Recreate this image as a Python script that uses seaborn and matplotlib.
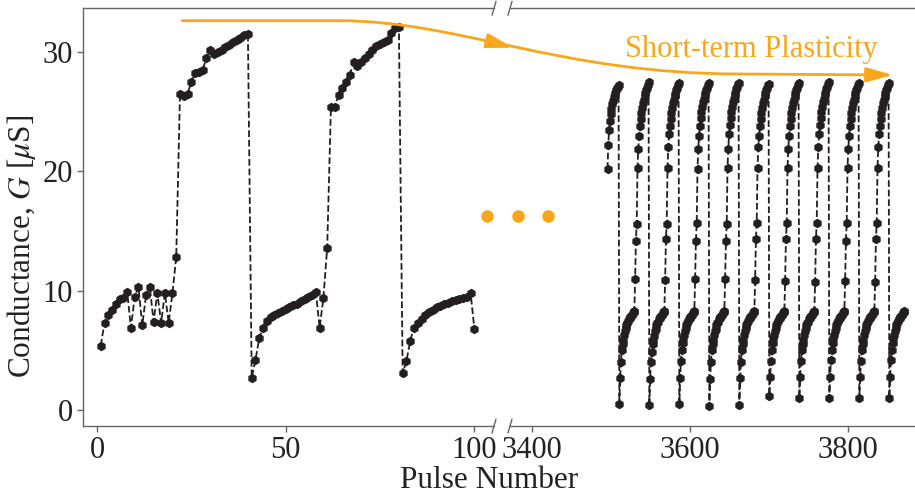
import numpy as np
import pandas as pd
import seaborn as sns
import matplotlib.pyplot as plt
from matplotlib.path import Path
from matplotlib.patches import FancyArrowPatch
from matplotlib.lines import Line2D

# Conductance readings, pulses 1-100 (start of the measurement)
g_left = [5.4, 7.3, 8.0, 8.4, 8.9, 9.3, 9.4, 9.9, 6.9, 9.5,
          10.3, 7.1, 9.6, 10.3, 7.4, 9.8, 7.3, 9.8, 7.3, 9.8,
          12.8, 26.5, 26.3, 26.5, 27.5, 28.2, 28.3, 28.5, 29.5, 30.2,
          29.8, 30.0, 30.2, 30.4, 30.6, 30.8, 31.0, 31.2, 31.4, 31.5,
          2.7, 4.2, 6.0, 6.9, 7.5, 7.8, 8.0, 8.1, 8.3, 8.5,
          8.6, 8.8, 8.9, 9.1, 9.3, 9.5, 9.6, 9.9, 6.9, 9.4,
          13.6, 25.4, 25.4, 26.4, 27.0, 27.5, 28.1, 29.2, 28.8, 29.2,
          29.5, 29.8, 30.2, 30.5, 30.7, 30.8, 31.0, 31.6, 32.0, 32.1,
          3.1, 4.1, 5.8, 6.9, 7.3, 7.6, 8.0, 8.2, 8.4, 8.6,
          8.7, 8.9, 9.0, 9.1, 9.2, 9.3, 9.4, 9.5, 9.8, 6.8]
pulse_left = list(range(1, len(g_left) + 1))

# Conductance readings after pulse 3496 (short-term plasticity cycles)
g_right = [
    20.2, 22.2, 23.5, 24.2, 24.8, 25.2, 25.6, 25.9, 26.2, 26.4, 26.6, 26.8, 27.0, 27.1, 27.2,
    0.5, 2.7, 4.0, 5.0, 5.5, 5.9, 6.3, 6.6, 6.9, 7.1, 7.3, 7.5, 7.6, 7.7, 7.8, 7.9, 8.0, 8.1, 8.2, 8.3,
    11.0, 14.2, 15.6,
    20.3, 21.9, 23.0, 23.8, 24.4, 24.9, 25.3, 25.7, 26.0, 26.3, 26.6, 26.8, 27.0, 27.2, 27.5,
    0.4, 2.6, 4.0, 4.9, 5.5, 5.9, 6.2, 6.6, 6.8, 7.1, 7.3, 7.4, 7.6, 7.7, 7.8, 7.9, 8.0, 8.1, 8.2, 8.3,
    10.9, 14.3, 15.6,
    20.3, 22.0, 23.1, 23.8, 24.4, 24.9, 25.3, 25.7, 26.0, 26.3, 26.5, 26.8, 27.0, 27.2, 27.4,
    0.5, 2.7, 4.1, 5.0, 5.6, 6.0, 6.3, 6.6, 6.9, 7.1, 7.3, 7.5, 7.6, 7.7, 7.8, 7.9, 8.0, 8.1, 8.2, 8.3,
    11.0, 14.2, 15.7,
    20.2, 21.9, 23.0, 23.8, 24.5, 25.0, 25.4, 25.8, 26.1, 26.4, 26.6, 26.8, 27.0, 27.2, 27.4,
    0.3, 2.6, 4.0, 5.0, 5.5, 5.9, 6.3, 6.6, 6.8, 7.1, 7.3, 7.4, 7.6, 7.7, 7.8, 7.9, 8.0, 8.1, 8.2, 8.3,
    11.0, 14.2, 15.6,
    20.3, 21.9, 23.1, 23.9, 24.5, 25.0, 25.4, 25.8, 26.1, 26.4, 26.6, 26.9, 27.1, 27.3, 27.4,
    0.4, 2.7, 4.0, 5.0, 5.5, 5.9, 6.3, 6.6, 6.9, 7.1, 7.3, 7.5, 7.6, 7.7, 7.8, 7.9, 8.0, 8.1, 8.2, 8.3,
    10.9, 14.3, 15.7,
    20.3, 22.0, 23.0, 23.8, 24.4, 24.9, 25.3, 25.7, 26.0, 26.3, 26.6, 26.8, 27.0, 27.2, 27.3,
    1.2, 2.8, 4.1, 5.0, 5.6, 6.0, 6.3, 6.6, 6.9, 7.1, 7.3, 7.5, 7.6, 7.7, 7.8, 7.9, 8.0, 8.1, 8.2, 8.3,
    10.8, 14.3, 15.7,
    20.3, 21.9, 23.0, 23.8, 24.4, 24.9, 25.3, 25.7, 26.0, 26.3, 26.6, 26.8, 27.0, 27.2, 27.4,
    1.0, 2.8, 4.1, 5.0, 5.5, 5.9, 6.3, 6.6, 6.9, 7.1, 7.3, 7.4, 7.6, 7.7, 7.8, 7.9, 8.0, 8.1, 8.2, 8.3,
    10.7, 14.3, 15.7,
    20.3, 22.0, 23.1, 23.9, 24.5, 25.0, 25.4, 25.8, 26.1, 26.4, 26.6, 26.9, 27.1, 27.3, 27.5,
    1.0, 2.8, 4.2, 5.0, 5.6, 6.0, 6.3, 6.6, 6.9, 7.1, 7.3, 7.5, 7.6, 7.7, 7.8, 7.9, 8.0, 8.1, 8.2, 8.3,
    10.8, 14.2, 15.7,
    20.3, 21.9, 23.0, 23.8, 24.4, 24.9, 25.3, 25.7, 26.0, 26.3, 26.6, 26.8, 27.0, 27.2, 27.4,
    1.0, 2.8, 4.1, 5.0, 5.5, 5.9, 6.3, 6.6, 6.9, 7.1, 7.3, 7.5, 7.6, 7.7, 7.8, 7.9, 8.0, 8.1, 8.2, 8.3,
    10.7, 14.3, 15.7,
    20.3, 22.0, 23.1, 23.8, 24.4, 24.9, 25.3, 25.7, 26.0, 26.3, 26.6, 26.8, 27.0, 27.2, 27.4,
    1.0, 2.8, 4.2, 5.0, 5.6, 6.0, 6.3, 6.6, 6.9, 7.1, 7.3, 7.5, 7.6, 7.7, 7.8, 7.9, 8.0, 8.1, 8.2, 8.3,
]
pulse_right = list(range(3496, 3496 + len(g_right)))

left_ticks = [0, 50, 100]
right_ticks = [3400, 3600, 3800]
y_ticks = [0, 10, 20, 30]

df_left = pd.DataFrame({'pulse': pulse_left, 'G': g_left})
df_right = pd.DataFrame({'pulse': pulse_right, 'G': g_right})

sns.set_theme(style='ticks')
plt.rcParams['font.family'] = ['Liberation Serif', 'DejaVu Serif']
plt.rcParams['mathtext.fontset'] = 'stix'

W, H = 915, 496
orange = '#F9A61A'
ink = '#231f20'
spine_c = '#666666'
text_c = '#222222'


def fxy(x, y):
    # pixel position -> figure fraction
    return x / W, 1 - y / H


fig = plt.figure(figsize=(W / 100, H / 100), dpi=100)
ax1 = fig.add_axes([83 / W, 1 - 426 / H, 411 / W, 417.7 / H])
ax2 = fig.add_axes([510 / W, 1 - 426 / H, 405 / W, 417.7 / H])

line_kw = dict(color=ink, marker='h', markersize=6, markeredgecolor=ink,
               linestyle='--', linewidth=1.3)
sns.lineplot(data=df_left, x='pulse', y='G', ax=ax1, **line_kw)
sns.lineplot(data=df_right, x='pulse', y='G', ax=ax2, **line_kw)

for ax in (ax1, ax2):
    ax.set_ylim(-1.34, 33.66)
    ax.set_xlabel('')
    ax.set_ylabel('')
    for s in ax.spines.values():
        s.set_color(spine_c)
        s.set_linewidth(1.0)
    ax.tick_params(length=4, width=1, color=spine_c, pad=3.5,
                   labelsize=22, labelcolor=text_c)

ax1.set_xlim(-3.7, 105.2)
ax1.set_xticks(left_ticks)
ax1.set_yticks(y_ticks)
ax1.spines['right'].set_visible(False)

ax2.set_xlim(3372.5, 3885.5)
ax2.set_xticks(right_ticks)
ax2.set_yticks([])
ax2.spines['left'].set_visible(False)
ax2.spines['right'].set_visible(False)

# broken-axis marks
for bx in (494, 510):
    for by in (8.3, 426):
        x0, y0 = fxy(bx - 2, by + 7)
        x1, y1 = fxy(bx + 2, by - 7)
        fig.add_artist(Line2D([x0, x1], [y0, y1], color=spine_c, lw=1.0,
                              transform=fig.transFigure))

# ellipsis between panels
dots = [fxy(486.7, 216), fxy(517.7, 216), fxy(548.3, 216)]
fig.add_artist(Line2D([d[0] for d in dots], [d[1] for d in dots], ls='none',
                      marker='o', ms=8, color=orange, transform=fig.transFigure))

# orange annotation arrow
verts = [fxy(182, 20.7), fxy(340, 20.7), fxy(460, 21), fxy(560, 74),
         fxy(740, 74), fxy(893, 75)]
codes = [Path.MOVETO, Path.LINETO, Path.CURVE4, Path.CURVE4, Path.CURVE4,
         Path.LINETO]
arrow = FancyArrowPatch(path=Path(verts, codes),
                        arrowstyle='-|>,head_length=0.8,head_width=0.22',
                        mutation_scale=20, color=orange, lw=2.0,
                        transform=fig.transFigure)
fig.add_artist(arrow)
mid = FancyArrowPatch(fxy(492, 42.2), fxy(513, 47.7),
                      arrowstyle='-|>,head_length=0.8,head_width=0.22',
                      mutation_scale=20, color=orange, lw=2.0,
                      shrinkA=0, shrinkB=0, transform=fig.transFigure)
fig.add_artist(mid)

fig.text(*fxy(751, 57), 'Short-term Plasticity', color=orange, fontsize=22,
         ha='center', va='baseline')
fig.text(*fxy(489, 488), 'Pulse Number', fontsize=22.5, color=text_c,
         ha='center', va='baseline')
fig.text(*fxy(22, 246), 'Conductance, $G$ [$\\mu$S]', fontsize=22.5,
         color=text_c, rotation=90, ha='center', va='center')

fig.savefig('out.png', dpi=100)
